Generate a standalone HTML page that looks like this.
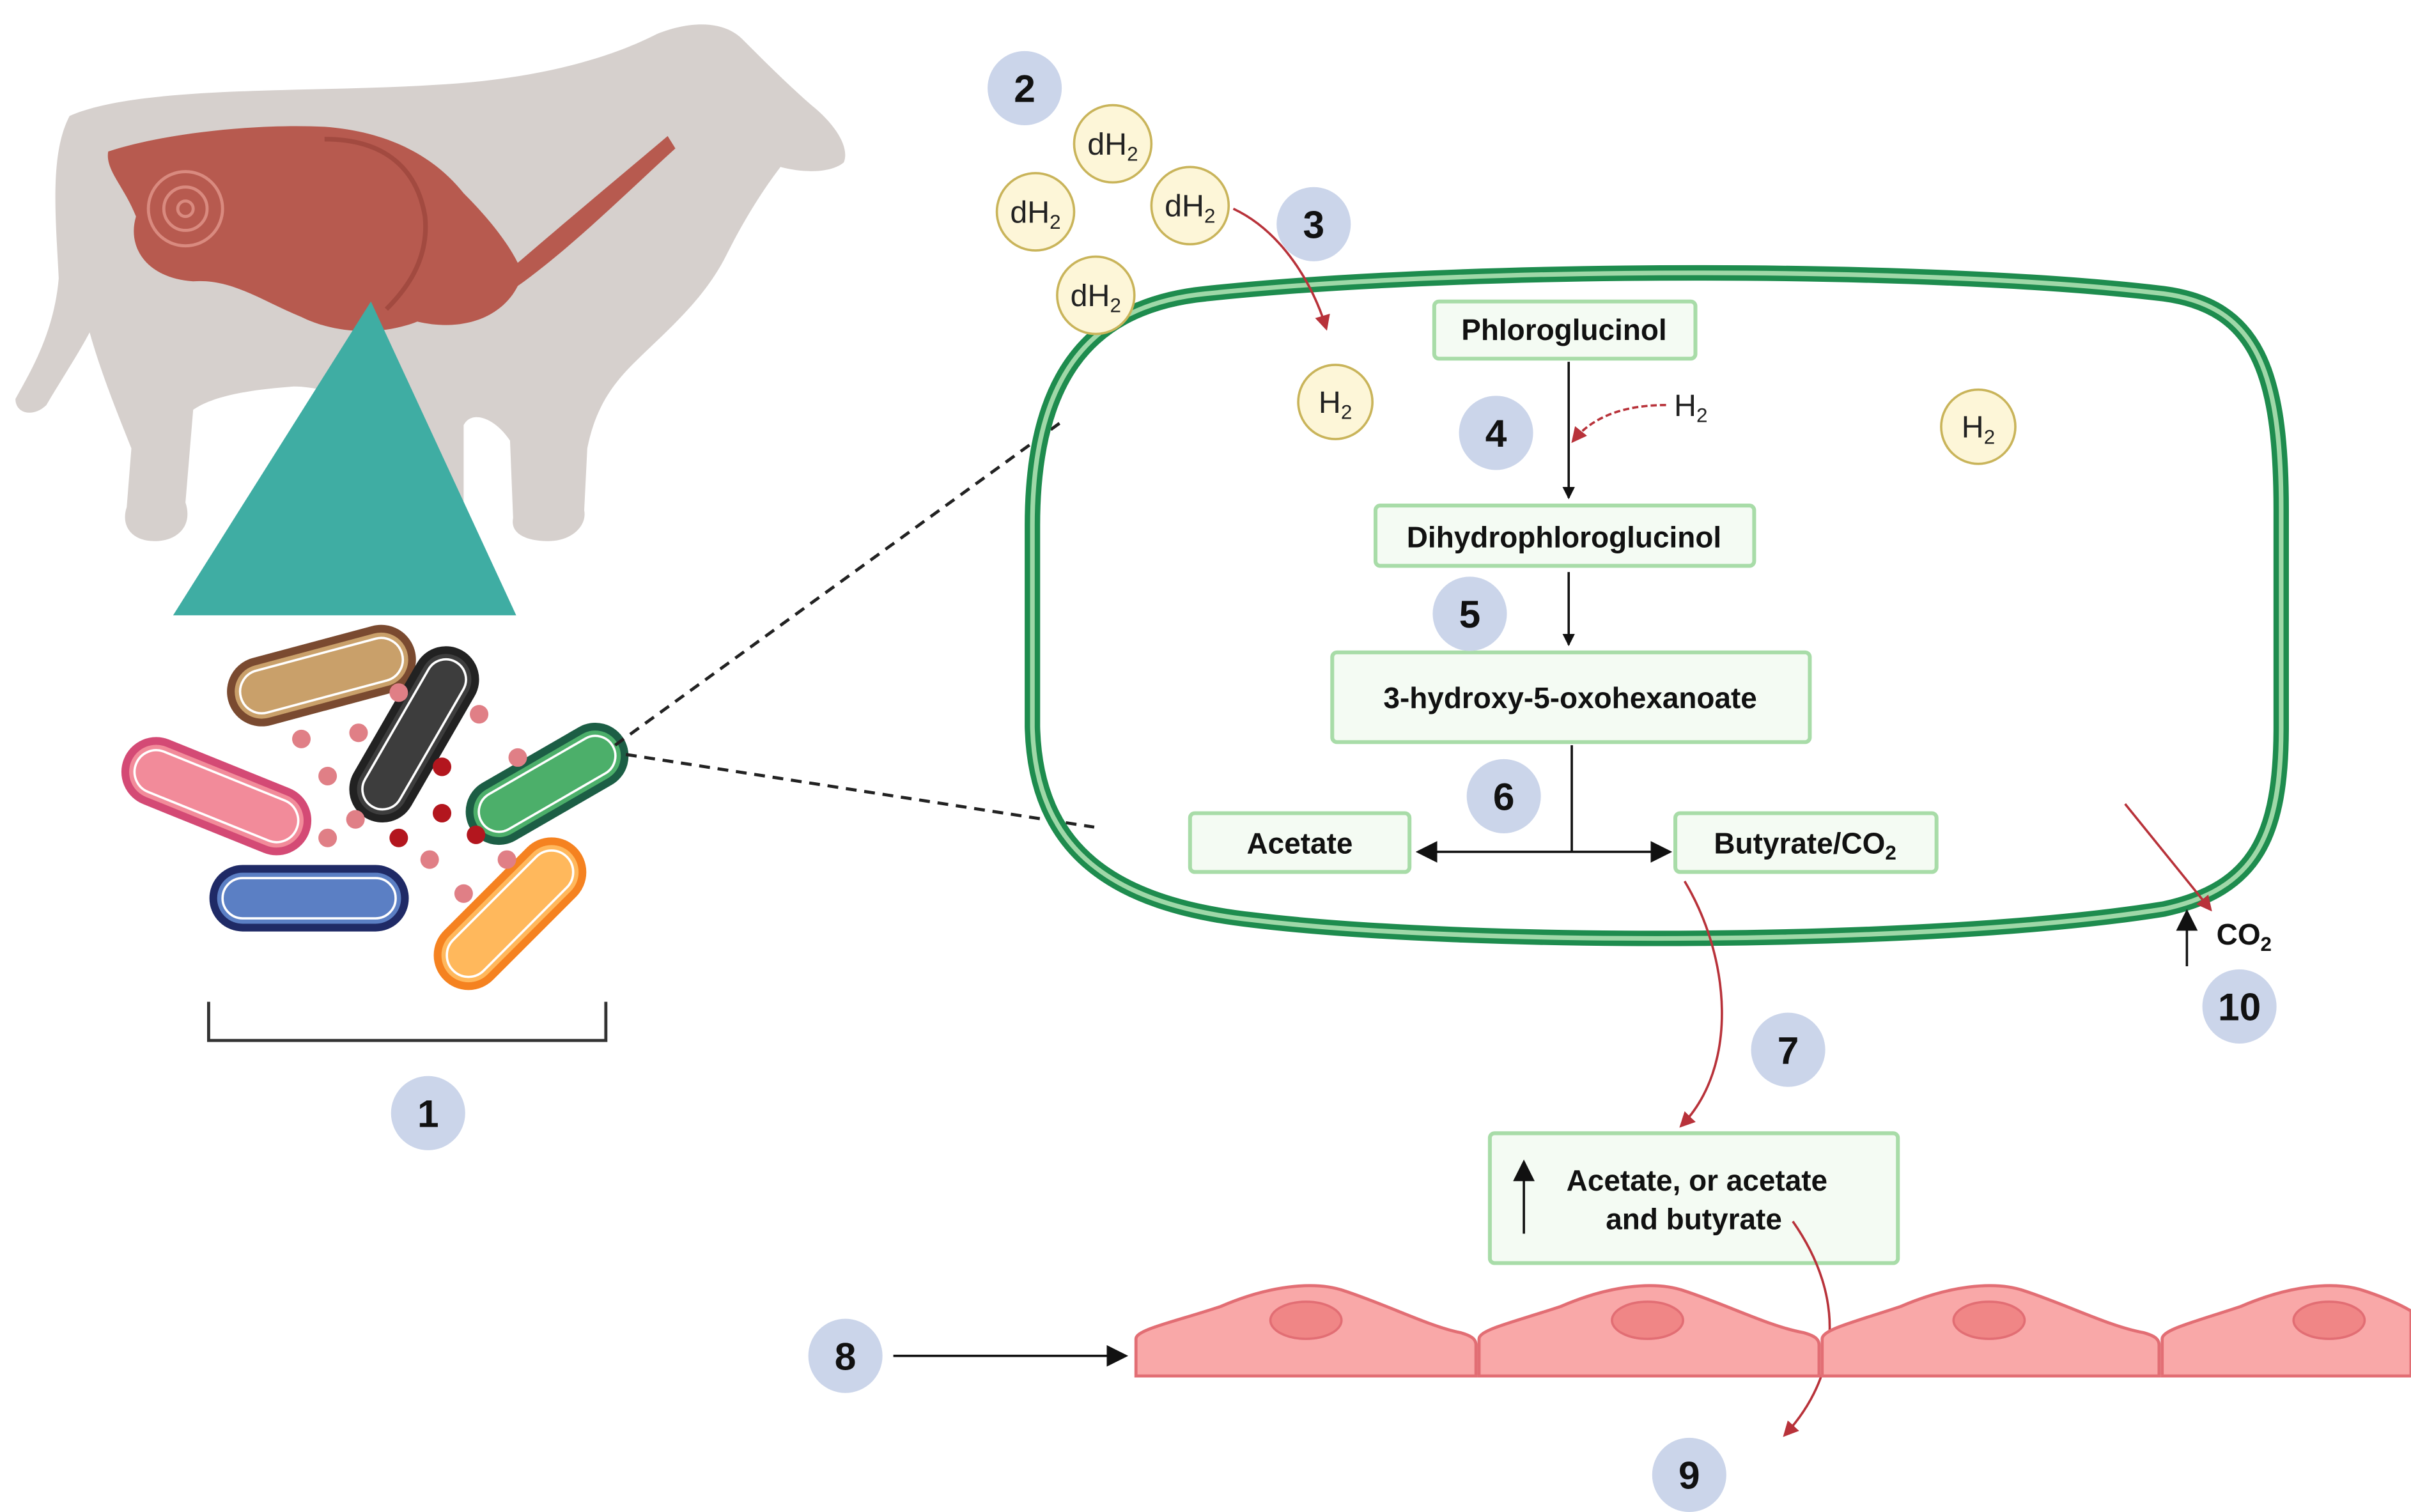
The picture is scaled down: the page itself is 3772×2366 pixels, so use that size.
<!DOCTYPE html>
<html><head><meta charset="utf-8"><style>html,body{margin:0;padding:0;background:#fff}svg{display:block}</style></head>
<body>
<svg width="3772" height="2366" viewBox="0 0 1560 978" preserveAspectRatio="none" xmlns="http://www.w3.org/2000/svg" font-family="Liberation Sans, sans-serif">
<defs>
<marker id="ab" markerWidth="8" markerHeight="8" refX="7" refY="4" orient="auto" markerUnits="userSpaceOnUse"><path d="M0,0 L8,4 L0,8z" fill="#111"/></marker>
<marker id="ar" markerWidth="10" markerHeight="10" refX="8" refY="5" orient="auto" markerUnits="userSpaceOnUse"><path d="M0,0 L10,5 L0,10z" fill="#b8323a"/></marker>
<marker id="abig" markerWidth="14" markerHeight="14" refX="12" refY="7" orient="auto" markerUnits="userSpaceOnUse"><path d="M0,0 L14,7 L0,14z" fill="#111"/></marker>
</defs>
<!-- cow -->
<path d="M45,75 C90,55 200,60 280,55 C340,52 390,40 425,22 C450,12 470,15 480,25 C495,40 510,55 525,68 C540,80 550,95 546,105 C538,112 520,112 505,108 C492,125 480,145 470,165 C455,195 430,215 410,235 C395,250 385,265 380,290 L378,330 C380,340 370,350 355,350 C340,350 330,345 332,335 L330,285 C320,270 305,265 300,275 L300,330 C305,340 295,350 280,350 C265,350 258,342 262,330 L255,280 C240,260 210,250 190,250 C165,252 140,255 125,265 L120,325 C125,340 115,350 100,350 C85,350 78,340 82,328 L85,290 C75,265 65,240 58,215 C50,230 40,245 30,262 C22,270 10,268 10,258 C20,240 35,215 38,180 C36,140 32,100 45,75Z" fill="#d6d0cd"/>
<path d="M70,98 C110,85 170,80 210,82 C250,85 280,100 300,125 C320,145 330,160 335,170 C370,140 400,115 432,88 L437,96 C405,125 370,160 335,185 C325,205 300,215 270,208 C245,218 215,215 195,205 C170,195 150,180 125,182 C95,180 82,160 88,140 C80,120 68,110 70,98Z" fill="#b75a4f"/>
<path d="M210,90 C250,90 270,110 275,140 C278,170 260,190 250,200" fill="none" stroke="#a24a40" stroke-width="3"/>
<circle cx="120" cy="135" r="24" fill="none" stroke="#d98a7f" stroke-width="2"/>
<circle cx="120" cy="135" r="14" fill="none" stroke="#d98a7f" stroke-width="2"/>
<circle cx="120" cy="135" r="5" fill="none" stroke="#d98a7f" stroke-width="2"/>
<polygon points="240,195 112,398 334,398" fill="#3fada3"/>
<!-- bacteria -->
<g stroke-width="5">
<rect x="-60" y="-20" width="120" height="40" rx="20" transform="translate(208,437) rotate(-15)" fill="#c9a06a" stroke="#7a4a30"/>
<rect x="-62" y="-20" width="124" height="40" rx="20" transform="translate(140,515) rotate(22)" fill="#f28b9a" stroke="#d44a75"/>
<rect x="-62" y="-19" width="124" height="38" rx="19" transform="translate(200,581)" fill="#5b7fc4" stroke="#1f2a66"/>
<rect x="-60" y="-19" width="120" height="38" rx="19" transform="translate(268,475) rotate(-60)" fill="#3d3d3d" stroke="#222"/>
<rect x="-55" y="-19" width="110" height="38" rx="19" transform="translate(354,507) rotate(-30)" fill="#4caf6a" stroke="#1c5e45"/>
<rect x="-58" y="-20" width="116" height="40" rx="20" transform="translate(330,591) rotate(-45)" fill="#ffb85c" stroke="#f58220"/>
</g>
<g fill="none" stroke="#fff" stroke-width="1.5">
<rect x="-54" y="-14" width="108" height="28" rx="14" transform="translate(208,437) rotate(-15)"/>
<rect x="-56" y="-14" width="112" height="28" rx="14" transform="translate(140,515) rotate(22)"/>
<rect x="-56" y="-13" width="112" height="26" rx="13" transform="translate(200,581)"/>
<rect x="-54" y="-13" width="108" height="26" rx="13" transform="translate(268,475) rotate(-60)"/>
<rect x="-49" y="-13" width="98" height="26" rx="13" transform="translate(354,507) rotate(-30)"/>
<rect x="-52" y="-14" width="104" height="28" rx="14" transform="translate(330,591) rotate(-45)"/>
</g>
<g fill="#e07f86">
<circle cx="195" cy="478" r="6"/><circle cx="232" cy="474" r="6"/><circle cx="212" cy="502" r="6"/><circle cx="212" cy="542" r="6"/><circle cx="230" cy="530" r="6"/><circle cx="310" cy="462" r="6"/><circle cx="335" cy="490" r="6"/><circle cx="278" cy="556" r="6"/><circle cx="328" cy="556" r="6"/><circle cx="300" cy="578" r="6"/><circle cx="258" cy="448" r="6"/>
</g>
<g fill="#b3161e"><circle cx="286" cy="496" r="6"/><circle cx="286" cy="526" r="6"/><circle cx="258" cy="542" r="6"/><circle cx="308" cy="540" r="6"/></g>
<path d="M135,648 V673 H392 V648" fill="none" stroke="#333" stroke-width="2"/>
<!-- dashed -->
<path d="M398,482 L688,272 M405,488 L708,535" stroke="#222" stroke-width="2" stroke-dasharray="7,5" fill="none"/>
<!-- cell -->
<path d="M780,190 C950,172 1250,172 1400,190 C1460,198 1476,240 1476,330 L1476,470 C1476,540 1460,575 1400,588 C1250,612 950,612 810,595 C720,585 670,550 668,470 L668,340 C668,250 700,198 780,190Z" fill="none" stroke="#1e8c4e" stroke-width="10"/>
<path d="M780,190 C950,172 1250,172 1400,190 C1460,198 1476,240 1476,330 L1476,470 C1476,540 1460,575 1400,588 C1250,612 950,612 810,595 C720,585 670,550 668,470 L668,340 C668,250 700,198 780,190Z" fill="none" stroke="#9fd8a8" stroke-width="3"/>
<!-- dH2 / H2 -->
<g fill="#fdf6d8" stroke="#c9b45a" stroke-width="1.5">
<circle cx="720" cy="93" r="25"/><circle cx="670" cy="137" r="25"/><circle cx="770" cy="133" r="25"/><circle cx="709" cy="191" r="25"/><circle cx="864" cy="260" r="24"/><circle cx="1280" cy="276" r="24"/>
</g>
<g font-size="20" text-anchor="middle" fill="#222">
<text x="720" y="100">dH<tspan font-size="13" dy="4">2</tspan></text>
<text x="670" y="144">dH<tspan font-size="13" dy="4">2</tspan></text>
<text x="770" y="140">dH<tspan font-size="13" dy="4">2</tspan></text>
<text x="709" y="198">dH<tspan font-size="13" dy="4">2</tspan></text>
<text x="864" y="267">H<tspan font-size="13" dy="4">2</tspan></text>
<text x="1280" y="283">H<tspan font-size="13" dy="4">2</tspan></text>
<text x="1094" y="269">H<tspan font-size="13" dy="4">2</tspan></text>
</g>
<!-- boxes -->
<g fill="#f4fbf3" stroke="#a8dca8" stroke-width="2.5">
<rect x="928" y="195" width="169" height="37" rx="3"/>
<rect x="890" y="327" width="245" height="39" rx="3"/>
<rect x="862" y="422" width="309" height="58" rx="3"/>
<rect x="770" y="526" width="142" height="38" rx="3"/>
<rect x="1084" y="526" width="169" height="38" rx="3"/>
<rect x="964" y="733" width="264" height="84" rx="3"/>
</g>
<g font-size="19" font-weight="bold" text-anchor="middle" fill="#111">
<text x="1012" y="220">Phloroglucinol</text>
<text x="1012" y="354">Dihydrophloroglucinol</text>
<text x="1016" y="458">3-hydroxy-5-oxohexanoate</text>
<text x="841" y="552">Acetate</text>
<text x="1168" y="552">Butyrate/CO<tspan font-size="13" dy="4">2</tspan></text>
<text x="1098" y="770">Acetate, or acetate</text>
<text x="1096" y="795">and butyrate</text>
<text x="1452" y="611">CO<tspan font-size="13" dy="4">2</tspan></text>
</g>
<!-- black arrows -->
<g stroke="#111" stroke-width="1.5" fill="none">
<path d="M1015,234 V322" marker-end="url(#ab)"/>
<path d="M1015,370 V417" marker-end="url(#ab)"/>
<path d="M1017,482 V551"/>
<path d="M1017,551 H918" marker-end="url(#abig)"/>
<path d="M1017,551 H1080" marker-end="url(#abig)"/>
<path d="M578,877 H728" marker-end="url(#abig)"/>
<path d="M986,798 V752" marker-end="url(#abig)"/>
<path d="M1415,625 V590" marker-end="url(#abig)"/>
</g>
<!-- red arrows -->
<g stroke="#b8323a" stroke-width="1.5" fill="none">
<path d="M798,135 C830,150 850,185 858,212" marker-end="url(#ar)"/>
<path d="M1078,262 C1050,262 1030,270 1018,285" stroke-dasharray="4,2" marker-end="url(#ar)"/>
<path d="M1090,570 C1120,620 1125,690 1088,728" marker-end="url(#ar)"/>
<path d="M1160,790 C1195,840 1190,890 1155,928" marker-end="url(#ar)"/>
<path d="M1375,520 L1430,588" marker-end="url(#ar)"/>
</g>
<!-- epithelium -->
<g fill="#f9a8a8" stroke="#e26e74" stroke-width="2">
<path d="M735,890 V866 C735,860 760,855 790,845 C820,832 850,828 870,835 C900,845 925,858 945,862 C952,864 955,866 955,870 V890Z"/>
<path d="M957,890 V866 C957,860 980,855 1010,845 C1040,832 1070,828 1090,835 C1120,845 1145,858 1167,862 C1174,864 1177,866 1177,870 V890Z"/>
<path d="M1179,890 V866 C1179,860 1200,855 1230,845 C1260,832 1290,828 1310,835 C1340,845 1365,858 1387,862 C1394,864 1397,866 1397,870 V890Z"/>
<path d="M1399,890 V866 C1399,860 1420,855 1450,845 C1480,832 1510,828 1530,835 C1545,840 1555,845 1560,848 V890Z"/>
</g>
<g fill="#f08686" stroke="#e26e74" stroke-width="1.5">
<ellipse cx="845" cy="854" rx="23" ry="12"/><ellipse cx="1066" cy="854" rx="23" ry="12"/><ellipse cx="1287" cy="854" rx="23" ry="12"/><ellipse cx="1507" cy="854" rx="23" ry="12"/>
</g>
<!-- numbered circles -->
<g fill="#cbd5ea">
<circle cx="277" cy="720" r="24"/><circle cx="663" cy="57" r="24"/><circle cx="850" cy="145" r="24"/><circle cx="968" cy="280" r="24"/><circle cx="951" cy="397" r="24"/><circle cx="973" cy="515" r="24"/><circle cx="1157" cy="679" r="24"/><circle cx="547" cy="877" r="24"/><circle cx="1093" cy="954" r="24"/><circle cx="1449" cy="651" r="24"/>
</g>
<g font-size="25" font-weight="bold" text-anchor="middle" fill="#111">
<text x="277" y="729">1</text><text x="663" y="66">2</text><text x="850" y="154">3</text><text x="968" y="289">4</text><text x="951" y="406">5</text><text x="973" y="524">6</text><text x="1157" y="688">7</text><text x="547" y="886">8</text><text x="1093" y="963">9</text><text x="1449" y="660">10</text>
</g>
</svg>
</body></html>
